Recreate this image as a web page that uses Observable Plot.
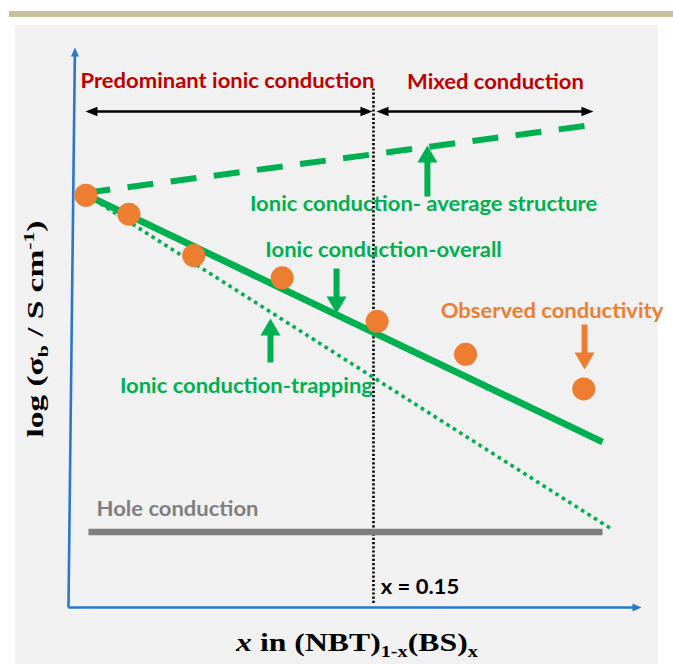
<!DOCTYPE html>
<html>
<head>
<meta charset="utf-8">
<script src="https://cdn.jsdelivr.net/npm/d3@7"></script>
<script src="https://cdn.jsdelivr.net/npm/@observablehq/plot@0.6"></script>
<style>
  html, body { margin: 0; padding: 0; background: #ffffff; }
  #frame { position: relative; width: 673px; height: 664px; overflow: hidden; }
  #rule { position: absolute; left: 9px; top: 11px; width: 664px; height: 6px; background: #c9c09b; }
  #panel { position: absolute; left: 15px; top: 25px; width: 643px; height: 639px; background: #f1f1f1; }
  #chart { position: absolute; left: 0; top: 0; }
</style>
</head>
<body>
<div id="frame">
  <div id="rule"></div>
  <div id="panel"></div>
  <div id="chart"></div>
</div>
<script>
// Schematic conductivity of (NBT)1-x(BS)x versus composition x.
// x: BS fraction; y: log(σb) in arbitrary log units (0 = bottom of the axis).

// Observed conductivity points
const compositions = [0.0076, 0.0289, 0.0610, 0.1048, 0.1518, 0.1956, 0.2541];
const logSigma     = [7.37, 7.03, 6.29, 5.89, 5.11, 4.52, 3.90];

// Model conduction lines (start / end)
const modelNames = ["average", "overall", "trapping", "hole"];
const modelX1 = [0.0069, 0.0084, 0.0084, 0.0089];
const modelY1 = [7.410, 7.366, 7.366, 1.335];
const modelX2 = [0.2560, 0.2634, 0.2674, 0.2634];
const modelY2 = [8.620, 2.948, 1.398, 1.335];

// Boundary between the two conduction regimes
const boundaryX = 0.15;
const boundaryYRange = [0.054, 9.283];

// Regime extent arrows and their titles
const regimeNames  = ["Predominant ionic conduction", "Mixed conduction"];
const regimeStart  = [0.0074, 0.1515];
const regimeEnd    = [0.1495, 0.2589];
const regimeArrowY = 8.871;
const regimeLabelX = [0.0777, 0.2104];
const regimeLabelY = [9.410, 9.392];

// Callout labels
const noteText = [
  "Ionic conduction- average structure",
  "Ionic conduction-overall",
  "Ionic conduction-trapping",
  "Observed conductivity",
  "Hole conduction",
  "x = 0.15"
];
const noteX = [0.1748, 0.1550, 0.0871, 0.2384, 0.0530, 0.1730];
const noteY = [7.195, 6.371, 3.934, 5.278, 1.738, 0.340];
const noteColor = ["#00b050", "#00b050", "#00b050", "#ed7d31", "#7f7f7f", "#000000"];

// Callout arrows (tail -> tip)
const calloutX     = [0.1767, 0.1317, 0.0990, 0.2545];
const calloutYTail = [7.348, 6.057, 4.373, 5.054];
const calloutYTip  = [8.262, 5.251, 5.161, 4.247];
const calloutColor = ["#00b050", "#00b050", "#00b050", "#ed7d31"];

// Axis lines (origin -> arrow tips)
const axisOrigin = [-0.001, -0.018];
const axisXTip = [0.2827, -0.018];
const axisYTip = [0.0022, 10.018];

const green = "#00b050", orange = "#ed7d31", red = "#c00000", grey = "#7f7f7f", blue = "#2a78cc";

const points = compositions.map((x, i) => ({x, y: logSigma[i]}));
const models = modelNames.map((name, i) => ({name, x1: modelX1[i], y1: modelY1[i], x2: modelX2[i], y2: modelY2[i]}));
const regimes = regimeNames.map((name, i) => ({name, x1: regimeStart[i], x2: regimeEnd[i], y: regimeArrowY, lx: regimeLabelX[i], ly: regimeLabelY[i]}));
const notes = noteText.map((text, i) => ({text, x: noteX[i], y: noteY[i], color: noteColor[i]}));
const callouts = calloutX.map((x, i) => ({x, y1: calloutYTail[i], y2: calloutYTip[i], color: calloutColor[i], dir: calloutYTip[i] > calloutYTail[i] ? "up" : "down"}));
const axes = [
  {x1: axisOrigin[0], y1: axisOrigin[1], x2: axisXTip[0], y2: axisXTip[1], dir: "right"},
  {x1: axisOrigin[0], y1: axisOrigin[1], x2: axisYTip[0], y2: axisYTip[1], dir: "up"}
];
const regimeHeads = regimes.flatMap(r => [{x: r.x1, y: r.y, dir: "left"}, {x: r.x2, y: r.y, dir: "right"}]);

// Filled triangular arrowhead whose tip sits at the symbol origin
function head(dir, len, wid) {
  const h = wid / 2;
  return {
    draw(ctx) {
      ctx.moveTo(0, 0);
      if (dir === "up") { ctx.lineTo(-h, len); ctx.lineTo(h, len); }
      else if (dir === "down") { ctx.lineTo(-h, -len); ctx.lineTo(h, -len); }
      else if (dir === "left") { ctx.lineTo(len, -h); ctx.lineTo(len, h); }
      else { ctx.lineTo(-len, -h); ctx.lineTo(-len, h); }
      ctx.closePath();
    }
  };
}

const model = name => models.filter(d => d.name === name);
const font = "Lato, 'Open Sans', sans-serif";

const chart = Plot.plot({
  width: 673,
  height: 664,
  marginLeft: 70,
  marginRight: 33,
  marginTop: 48,
  marginBottom: 58,
  x: {domain: [0, 0.2822], axis: null},
  y: {domain: [0, 10], axis: null},
  color: {type: "identity"},
  style: {background: "transparent", overflow: "visible"},
  marks: [
    // axes
    Plot.arrow(axes, {x1: "x1", y1: "y1", x2: "x2", y2: "y2", stroke: blue, strokeWidth: 2.6, headLength: 0, insetEnd: 5, strokeLinecap: "butt"}),
    Plot.dot(axes.filter(d => d.dir === "right"), {x: "x2", y: "y2", symbol: head("right", 9, 8), fill: blue, stroke: "none"}),
    Plot.dot(axes.filter(d => d.dir === "up"), {x: "x2", y: "y2", symbol: head("up", 9, 8), fill: blue, stroke: "none"}),

    // regime boundary
    Plot.ruleX([boundaryX], {y1: boundaryYRange[0], y2: boundaryYRange[1], stroke: "#000", strokeWidth: 2.6, strokeDasharray: "2.2 2"}),

    // model lines
    Plot.link(model("hole"), {x1: "x1", y1: "y1", x2: "x2", y2: "y2", stroke: grey, strokeWidth: 6.5}),
    Plot.link(model("trapping"), {x1: "x1", y1: "y1", x2: "x2", y2: "y2", stroke: green, strokeWidth: 3.6, strokeDasharray: "3.6 4"}),
    Plot.link(model("overall"), {x1: "x1", y1: "y1", x2: "x2", y2: "y2", stroke: green, strokeWidth: 6.8}),
    Plot.link(model("average"), {x1: "x1", y1: "y1", x2: "x2", y2: "y2", stroke: green, strokeWidth: 6, strokeDasharray: "26 17.5"}),

    // observed conductivity
    Plot.dot(points, {x: "x", y: "y", r: 11.5, fill: orange, stroke: "none"}),

    // regime extent arrows
    Plot.arrow(regimes, {x1: "x1", y1: "y", x2: "x2", y2: "y", stroke: "#000", strokeWidth: 2.6, headLength: 0, insetStart: 6, insetEnd: 6, strokeLinecap: "butt"}),
    Plot.dot(regimeHeads.filter(d => d.dir === "left"), {x: "x", y: "y", symbol: head("left", 12, 9.5), fill: "#000", stroke: "none"}),
    Plot.dot(regimeHeads.filter(d => d.dir === "right"), {x: "x", y: "y", symbol: head("right", 12, 9.5), fill: "#000", stroke: "none"}),
    Plot.text(regimes, {x: "lx", y: "ly", text: "name", fill: red, fontSize: 20, fontWeight: "bold", fontFamily: font, textAnchor: "middle", lineAnchor: "middle"}),

    // callout arrows
    Plot.arrow(callouts, {x1: "x", y1: "y1", x2: "x", y2: "y2", stroke: "color", strokeWidth: 6, headLength: 0, insetEnd: 12, strokeLinecap: "butt"}),
    Plot.dot(callouts.filter(d => d.dir === "up"), {x: "x", y: "y2", symbol: head("up", 17, 20), fill: "color", stroke: "none"}),
    Plot.dot(callouts.filter(d => d.dir === "down"), {x: "x", y: "y2", symbol: head("down", 17, 20), fill: "color", stroke: "none"}),

    // callout labels
    Plot.text(notes, {x: "x", y: "y", text: "text", fill: "color", fontSize: 20, fontWeight: "bold", fontFamily: font, textAnchor: "middle", lineAnchor: "middle"})
  ]
});

document.getElementById("chart").appendChild(chart);

const svg = d3.select(chart);

// Labels get a slight horizontal stretch about their anchor point
const labelStretch = 1.1;
svg.selectAll("g[aria-label='text'] text").each(function () {
  const el = d3.select(this);
  const t = el.attr("transform") || "";
  el.attr("transform", `${t} scale(${labelStretch},1)`);
});

// Axis titles with sub/superscripts
const serif = "'Liberation Serif', 'Times New Roman', serif";

const yTitle = svg.append("text")
  .attr("transform", "translate(43,329) rotate(-90) scale(1.45,1)")
  .attr("text-anchor", "middle")
  .attr("font-family", serif).attr("font-weight", "bold").attr("font-size", 23).attr("fill", "#000");
yTitle.append("tspan").text("log (σ");
yTitle.append("tspan").attr("font-size", 15).attr("dy", 5).text("b");
yTitle.append("tspan").attr("dy", -5).text(" / S cm");
yTitle.append("tspan").attr("font-size", 15).attr("dy", -9).text("-1");
yTitle.append("tspan").attr("dy", 9).text(")");

const xTitle = svg.append("text")
  .attr("transform", "translate(357,651) scale(1.27,1)")
  .attr("text-anchor", "middle")
  .attr("font-family", serif).attr("font-weight", "bold").attr("font-size", 25).attr("fill", "#000");
xTitle.append("tspan").attr("font-style", "italic").text("x");
xTitle.append("tspan").text(" in (NBT)");
xTitle.append("tspan").attr("font-size", 16).attr("dy", 6).text("1-x");
xTitle.append("tspan").attr("dy", -6).text("(BS)");
xTitle.append("tspan").attr("font-size", 16).attr("dy", 6).text("x");
</script>
</body>
</html>
